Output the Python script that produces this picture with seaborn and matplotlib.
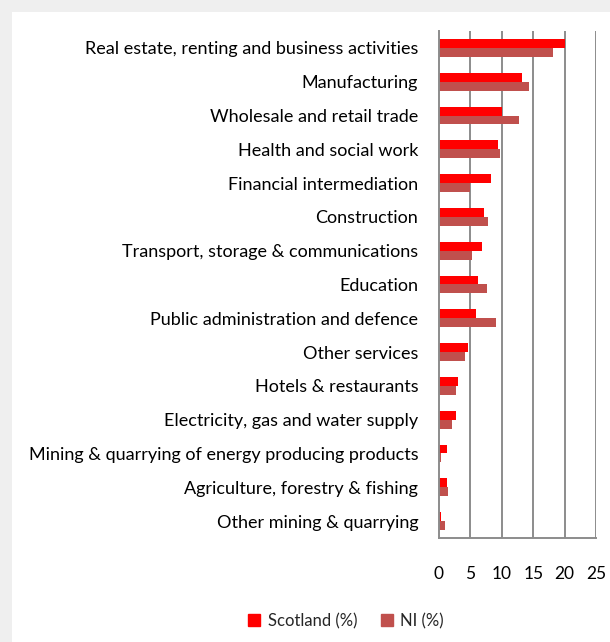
import matplotlib
matplotlib.use("Agg")
import matplotlib.pyplot as plt
from matplotlib.lines import Line2D
from matplotlib.patches import Rectangle
from matplotlib.ticker import FixedLocator
import numpy as np
import pandas as pd
import seaborn as sns

categories = [
    "Real estate, renting and business activities",
    "Manufacturing",
    "Wholesale and retail trade",
    "Health and social work",
    "Financial intermediation",
    "Construction",
    "Transport, storage & communications",
    "Education",
    "Public administration and defence",
    "Other services",
    "Hotels & restaurants",
    "Electricity, gas and water supply",
    "Mining & quarrying of energy producing products",
    "Agriculture, forestry & fishing",
    "Other mining & quarrying",
]
scotland = [20.1, 13.2, 10.1, 9.4, 8.3, 7.1, 6.9, 6.2, 5.9, 4.6, 3.1, 2.7, 1.2, 1.2, 0.3]
ni = [18.1, 14.4, 12.7, 9.7, 5.0, 7.8, 5.3, 7.6, 9.0, 4.1, 2.7, 2.0, 0.3, 1.5, 1.0]
series_names = ["Scotland (%)", "NI (%)"]
x_ticks = [0, 5, 10, 15, 20, 25]

df = pd.DataFrame({
    "sector": categories * 2,
    "series": [series_names[0]] * len(categories) + [series_names[1]] * len(categories),
    "value": scotland + ni,
})
colors = {series_names[0]: "#FF0000", series_names[1]: "#C0504D"}

sns.set_style("white")
plt.rcParams["font.family"] = ["Lato", "DejaVu Sans"]

fig = plt.figure(figsize=(6.10, 6.42), dpi=100)
# light grey frame strips along the top and left edges
fig.patches.append(Rectangle((0, 1 - 12 / 642), 1, 12 / 642, transform=fig.transFigure,
                             facecolor="#EFEFEF", edgecolor="none", zorder=0))
fig.patches.append(Rectangle((0, 0), 12 / 610, 1, transform=fig.transFigure,
                             facecolor="#EFEFEF", edgecolor="none", zorder=0))

ax = fig.add_axes([439 / 610, 1 - 538 / 642, (596 - 439) / 610, (538 - 31) / 642])
ax.set_facecolor("none")

sns.barplot(data=df, y="sector", x="value", hue="series", order=categories,
            hue_order=series_names, palette=colors, orient="h", width=0.53,
            ax=ax, legend=False, linewidth=0, saturation=1)

ax.set_xlim(0, 25)
ax.set_ylim(len(categories) - 0.5, -0.5)
ax.set_xticks(x_ticks)
ax.set_xlabel("")
ax.set_ylabel("")

grid_col = "#8C8C8C"
ax.grid(False)
for v in x_ticks[1:]:
    ax.axvline(v, color=grid_col, lw=1.4, zorder=0)

for side in ["top", "right"]:
    ax.spines[side].set_visible(False)
for side in ["left", "bottom"]:
    ax.spines[side].set_color(grid_col)
    ax.spines[side].set_linewidth(1.4)

# category labels centred, tick marks on category boundaries
ax.tick_params(axis="y", which="major", length=0, pad=15, labelsize=13, labelcolor="#000000")
ax.yaxis.set_minor_locator(FixedLocator(np.arange(-0.5, len(categories), 1.0)))
ax.tick_params(axis="y", which="minor", length=4, width=1.4, color=grid_col, direction="out")
ax.tick_params(axis="x", which="major", length=4, width=1.4, color=grid_col, direction="out",
               pad=16, labelsize=12.5, labelcolor="#000000")

handles = [Line2D([], [], marker="s", linestyle="none", markersize=8,
                  markerfacecolor=colors[s], markeredgecolor=colors[s]) for s in series_names]
fig.legend(handles, series_names, loc="center", bbox_to_anchor=(345 / 610, 1 - 621 / 642),
           ncol=2, frameon=False, fontsize=12, handletextpad=0.3, columnspacing=1.3,
           handlelength=1.0)

fig.savefig("out.png", dpi=100)
